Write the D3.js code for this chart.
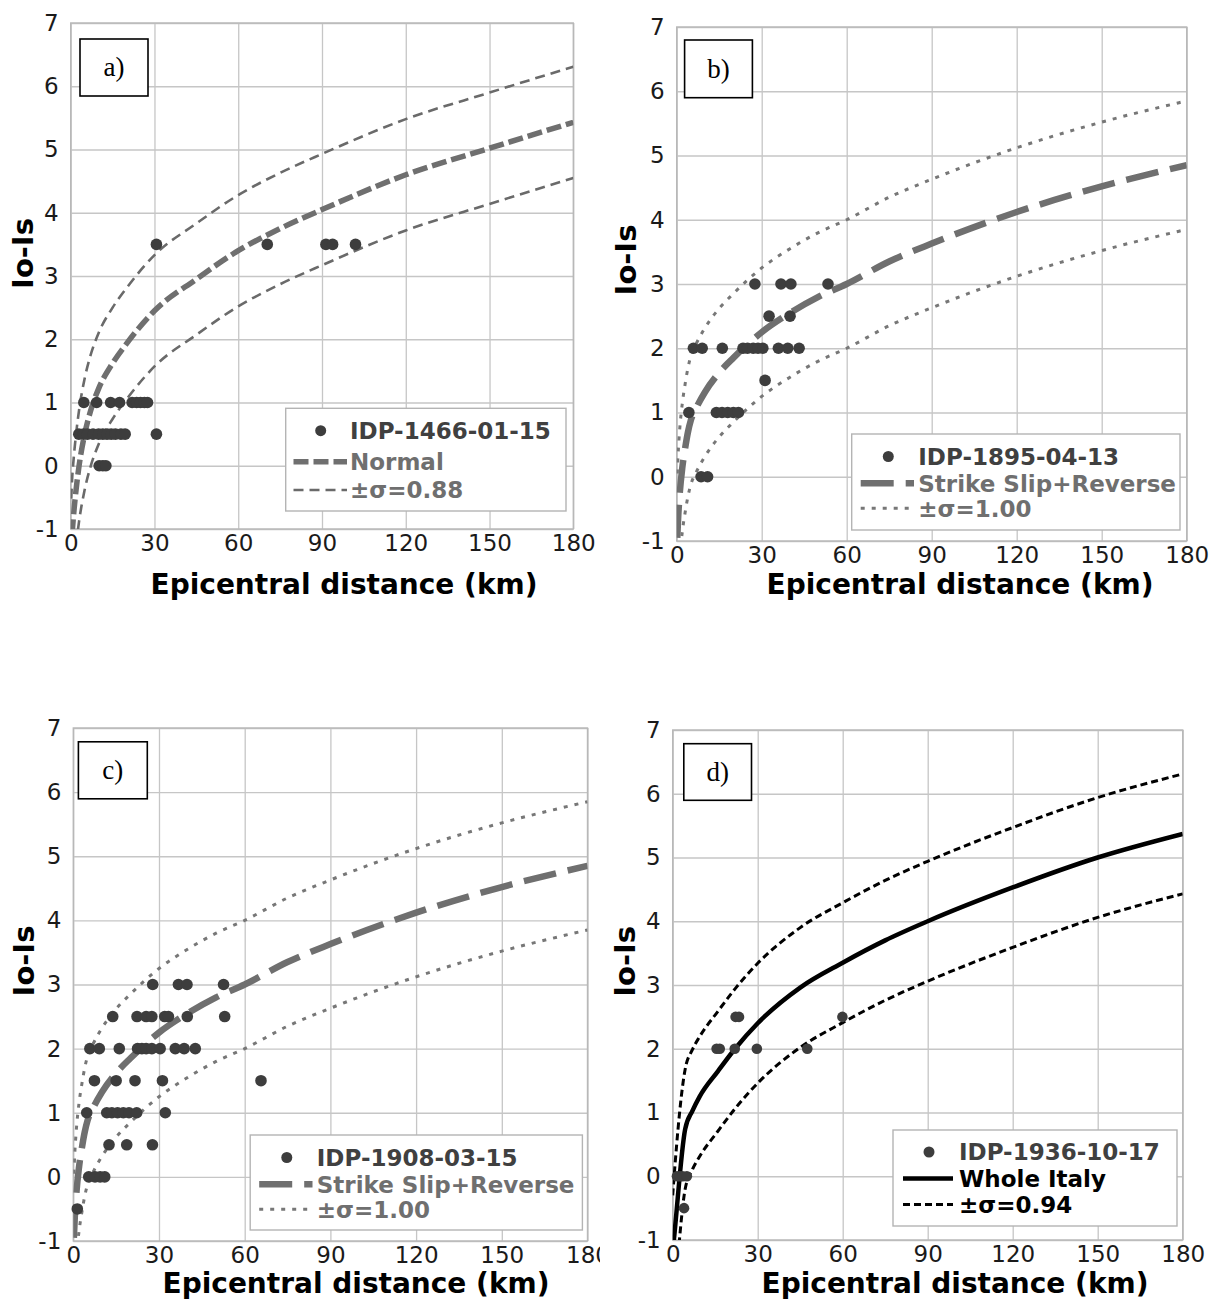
<!DOCTYPE html>
<html><head><meta charset="utf-8">
<script src="https://cdn.jsdelivr.net/npm/d3@7"></script>
<style>
html,body{margin:0;padding:0;background:#fff;}
svg{display:block;}
</style></head>
<body>
<script>
// ---------- shared axis ticks ----------
const xTicks = [0, 30, 60, 90, 120, 150, 180];
const yTicks = [-1, 0, 1, 2, 3, 4, 5, 6, 7];
const xTitle = "Epicentral distance (km)";
const yTitle = "Io-Is";

// ---------- panel a: IDP-1466-01-15 / Normal ----------
const distA = [30.7, 70.4, 91.4, 93.8, 102,
  4.7, 9.3, 14.3, 17.5, 22, 23.6, 25, 26.4, 27.5,
  2.9, 4.6, 6, 8, 10, 11.5, 13, 14.5, 16, 18, 19.5, 30.7,
  10.2, 11.5, 12.6];
const ioIsA = [3.5, 3.5, 3.5, 3.5, 3.5,
  1, 1, 1, 1, 1, 1, 1, 1, 1,
  0.5, 0.5, 0.5, 0.5, 0.5, 0.5, 0.5, 0.5, 0.5, 0.5, 0.5, 0.5,
  0, 0, 0];
const modelDistA = [0.2, 0.5, 1, 2, 3, 5, 7, 10, 15, 20, 30, 45, 60, 75, 90, 120, 150, 180];
const normalA    = [-1.4, -1.1, -0.8, -0.35, 0.0, 0.5, 0.85, 1.22, 1.62, 1.93, 2.45, 2.95, 3.4, 3.75, 4.05, 4.6, 5.02, 5.43];
const normalUpA  = [-0.52, -0.22, 0.08, 0.53, 0.88, 1.38, 1.73, 2.1, 2.5, 2.81, 3.33, 3.83, 4.28, 4.63, 4.93, 5.48, 5.9, 6.31];
const normalLoA  = [-2.28, -1.98, -1.68, -1.23, -0.88, -0.38, -0.03, 0.34, 0.74, 1.05, 1.57, 2.07, 2.52, 2.87, 3.17, 3.72, 4.14, 4.55];
const legendA = ["IDP-1466-01-15", "Normal", "\u00b1\u03c3=0.88"];

// ---------- panel b: IDP-1895-04-13 / Strike Slip+Reverse ----------
const distB = [27.6, 36.8, 40.3, 53.4,
  32.6, 40,
  5.9, 9, 16.1, 23.4, 25, 27, 28.7, 30.4, 35.9, 39.2, 43.2,
  31.2,
  4.3, 14, 16, 18, 20, 21.8,
  8.6, 10.9];
const ioIsB = [3, 3, 3, 3,
  2.5, 2.5,
  2, 2, 2, 2, 2, 2, 2, 2, 2, 2, 2,
  1.5,
  1, 1, 1, 1, 1, 1,
  0, 0];
const modelDistSS = [0.2, 0.5, 1, 2, 3, 4, 5, 7, 10, 15, 20, 30, 40, 50, 60, 75, 90, 120, 150, 180];
const strikeSS    = [-0.95, -0.65, -0.3, 0.15, 0.45, 0.7, 0.88, 1.08, 1.32, 1.62, 1.85, 2.25, 2.55, 2.8, 3.0, 3.35, 3.63, 4.12, 4.52, 4.85];
const strikeUpSS  = [0.05, 0.35, 0.7, 1.15, 1.45, 1.7, 1.88, 2.08, 2.32, 2.62, 2.85, 3.25, 3.55, 3.8, 4.0, 4.35, 4.63, 5.12, 5.52, 5.85];
const strikeLoSS  = [-1.95, -1.65, -1.3, -0.85, -0.55, -0.3, -0.12, 0.08, 0.32, 0.62, 0.85, 1.25, 1.55, 1.8, 2.0, 2.35, 2.63, 3.12, 3.52, 3.85];
const legendB = ["IDP-1895-04-13", "Strike Slip+Reverse", "\u00b1\u03c3=1.00"];

// ---------- panel c: IDP-1908-03-15 / Strike Slip+Reverse ----------
const distC = [27.8, 36.8, 39.8, 52.6,
  13.8, 22.3, 25.5, 27.5, 32, 33.3, 39.9, 53,
  5.8, 9.1, 16.1, 22.5, 24, 25.5, 27.5, 30.4, 35.7, 38.8, 42.7,
  7.4, 15, 21.6, 31.2, 65.7,
  4.7, 11.7, 13.5, 15.5, 17.5, 19.5, 22.2, 32.2,
  12.5, 18.7, 27.7,
  5.4, 7.6, 9.4, 11,
  1.4];
const ioIsC = [3, 3, 3, 3,
  2.5, 2.5, 2.5, 2.5, 2.5, 2.5, 2.5, 2.5,
  2, 2, 2, 2, 2, 2, 2, 2, 2, 2, 2,
  1.5, 1.5, 1.5, 1.5, 1.5,
  1, 1, 1, 1, 1, 1, 1, 1,
  0.5, 0.5, 0.5,
  0, 0, 0, 0,
  -0.5];
const legendC = ["IDP-1908-03-15", "Strike Slip+Reverse", "\u00b1\u03c3=1.00"];

// ---------- panel d: IDP-1936-10-17 / Whole Italy ----------
const distD = [1.5, 2.5, 3.5, 5, 4, 15.5, 16.6, 21.9, 29.7, 47.5, 22.2, 23.4, 59.9];
const ioIsD = [0, 0, 0, 0, -0.5, 2, 2, 2, 2, 2, 2.5, 2.5, 2.5];
const modelDistD = [0, 0.4, 4.4, 7, 9.5, 16, 22, 30, 45, 60, 75, 90, 120, 150, 180];
const italyD     = [-1.17, -1.0, 0.74, 1.03, 1.25, 1.65, 2.0, 2.4, 2.96, 3.35, 3.7, 4.0, 4.53, 5.0, 5.37];
const italyUpD   = [-0.3, -0.06, 1.68, 1.99, 2.19, 2.59, 2.94, 3.34, 3.9, 4.29, 4.64, 4.94, 5.47, 5.94, 6.31];
const italyLoD   = [-2.1, -1.94, -0.2, 0.11, 0.31, 0.71, 1.06, 1.46, 2.02, 2.41, 2.76, 3.06, 3.59, 4.06, 4.43];
const legendD = ["IDP-1936-10-17", "Whole Italy", "\u00b1\u03c3=0.94"];

// ---------- styles ----------
const DOT = "#3d3d3d";
const GREY = "#6f6f6f";
const styleNormal  = {stroke: GREY, width: 5.5, dash: "15,5"};
const styleNormSig = {stroke: "#6a6a6a", width: 2.6, dash: "10,6"};
const styleSS      = {stroke: GREY, width: 6.5, dash: "33,12"};
const styleSSSig   = {stroke: "#777", width: 3, dash: "4,7"};
const styleItaly   = {stroke: "#000", width: 4.5, dash: null};
const styleItSig   = {stroke: "#000", width: 3, dash: "7,4"};

const panels = [
  {id: "a", label: "a)", x0: 70.7, x1: 573.3, y0: 23, y1: 529,
   pts: [distA, ioIsA], r: 5.8,
   curves: [[modelDistA, normalUpA, styleNormSig], [modelDistA, normalLoA, styleNormSig], [modelDistA, normalA, styleNormal]],
   labelBox: [80, 39, 148, 96],
   legend: {names: legendA, box: [285.7, 408.3, 566, 511], dotX: 320.7, textX: 350, rows: [430.7, 461.7, 490], sx: [293.5, 347],
            styles: [styleNormal, styleNormSig], colors: ["#404040", GREY, GREY]},
   yTitle: [23, 253.5], xTitle: [344, 594]},
  {id: "b", label: "b)", x0: 676.7, x1: 1186.7, y0: 27, y1: 541,
   pts: [distB, ioIsB], r: 5.8,
   curves: [[modelDistSS, strikeUpSS, styleSSSig], [modelDistSS, strikeLoSS, styleSSSig], [modelDistSS, strikeSS, styleSS]],
   labelBox: [684.6, 40, 752.4, 97.7],
   legend: {names: legendB, box: [851.7, 434, 1180, 530], dotX: 888.3, textX: 918.3, rows: [456.5, 483.3, 508.3], sx: [860.7, 914],
            styles: [styleSS, styleSSSig], colors: ["#404040", GREY, GREY]},
   yTitle: [626, 260], xTitle: [960, 594]},
  {id: "c", label: "c)", x0: 73.3, x1: 587.5, y0: 728, y1: 1241,
   pts: [distC, ioIsC], r: 5.8, clipRight: 600,
   curves: [[modelDistSS, strikeUpSS, styleSSSig], [modelDistSS, strikeLoSS, styleSSSig], [modelDistSS, strikeSS, styleSS]],
   labelBox: [78.4, 741.8, 147.3, 798.8],
   legend: {names: legendC, box: [250.2, 1135, 582.4, 1230], dotX: 286.8, textX: 316.8, rows: [1157.5, 1184.3, 1209.3], sx: [259.2, 312.5],
            styles: [styleSS, styleSSSig], colors: ["#404040", GREY, GREY]},
   yTitle: [23.5, 961], xTitle: [356, 1293]},
  {id: "d", label: "d)", x0: 672.7, x1: 1182.7, y0: 730, y1: 1240,
   pts: [distD, ioIsD], r: 5.3,
   curves: [[modelDistD, italyUpD, styleItSig], [modelDistD, italyLoD, styleItSig], [modelDistD, italyD, styleItaly]],
   labelBox: [683.8, 743.7, 751.5, 800.3],
   legend: {names: legendD, box: [893, 1130, 1177, 1226], dotX: 929, textX: 959, rows: [1152, 1178.6, 1204.6], sx: [903, 953],
            styles: [styleItaly, styleItSig], colors: ["#404040", "#000", "#000"]},
   yTitle: [625, 961.4], xTitle: [955, 1293]}
];

const W = 1226, H = 1304;
const svg = d3.select("body").append("svg").attr("width", W).attr("height", H)
  .style("font-family", "'DejaVu Sans', Verdana, sans-serif");
svg.append("rect").attr("width", W).attr("height", H).attr("fill", "#fff");
const defs = svg.append("defs");

function applyStyle(sel, st) {
  sel.attr("fill", "none").attr("stroke", st.stroke).attr("stroke-width", st.width)
     .attr("stroke-dasharray", st.dash).attr("stroke-linecap", "butt").attr("stroke-linejoin", "round");
}

panels.forEach(p => {
  const x = d3.scaleLinear().domain([0, 180]).range([p.x0, p.x1]);
  const y = d3.scaleLinear().domain([-1, 7]).range([p.y1, p.y0]);
  let g = svg.append("g");
  if (p.clipRight) {
    defs.append("clipPath").attr("id", "clipR-" + p.id)
      .append("rect").attr("x", 0).attr("y", 600).attr("width", p.clipRight).attr("height", H - 600);
    g.attr("clip-path", "url(#clipR-" + p.id + ")");
  }
  defs.append("clipPath").attr("id", "plot-" + p.id)
    .append("rect").attr("x", p.x0).attr("y", p.y0).attr("width", p.x1 - p.x0).attr("height", p.y1 - p.y0);

  // grid + tick labels (plain hyphen for negatives, as in the reference)
  const fmt = d => String(d);
  const gx = g.append("g").attr("transform", `translate(0,${p.y1})`)
    .call(d3.axisBottom(x).tickValues(xTicks).tickFormat(fmt).tickSizeInner(-(p.y1 - p.y0)).tickSizeOuter(0).tickPadding(6));
  const gy = g.append("g").attr("transform", `translate(${p.x0},0)`)
    .call(d3.axisLeft(y).tickValues(yTicks).tickFormat(fmt).tickSizeInner(-(p.x1 - p.x0)).tickSizeOuter(0).tickPadding(12));
  [gx, gy].forEach(a => {
    a.select(".domain").remove();
    a.selectAll(".tick line").attr("stroke", "#c6c6c6").attr("stroke-width", 1.3);
    a.selectAll(".tick text").attr("fill", "#1a1a1a").style("font-size", "23px")
      .style("font-family", "'DejaVu Sans', Verdana, sans-serif");
  });
  g.append("rect").attr("x", p.x0).attr("y", p.y0).attr("width", p.x1 - p.x0).attr("height", p.y1 - p.y0)
    .attr("fill", "none").attr("stroke", "#b8b8b8").attr("stroke-width", 1.4);

  // model curves
  const cg = g.append("g").attr("clip-path", "url(#plot-" + p.id + ")");
  p.curves.forEach(([xs, ys, st]) => {
    const data = xs.map((d, i) => [d, ys[i]]);
    const line = d3.line().x(d => x(d[0])).y(d => y(d[1])).curve(d3.curveMonotoneX);
    applyStyle(cg.append("path").attr("d", line(data)), st);
  });

  // observed points
  const [dx, dy] = p.pts;
  g.append("g").selectAll("circle").data(dx.map((d, i) => [d, dy[i]])).join("circle")
    .attr("cx", d => x(d[0])).attr("cy", d => y(d[1])).attr("r", p.r).attr("fill", DOT);

  // legend
  const L = p.legend;
  const lg = g.append("g");
  lg.append("rect").attr("x", L.box[0]).attr("y", L.box[1]).attr("width", L.box[2] - L.box[0]).attr("height", L.box[3] - L.box[1])
    .attr("fill", "#fff").attr("stroke", "#b4b4b4").attr("stroke-width", 1.4);
  lg.append("circle").attr("cx", L.dotX).attr("cy", L.rows[0]).attr("r", 5.5).attr("fill", DOT);
  [1, 2].forEach(k => {
    applyStyle(lg.append("line").attr("x1", L.sx[0]).attr("x2", L.sx[1]).attr("y1", L.rows[k]).attr("y2", L.rows[k]), L.styles[k - 1]);
  });
  L.names.forEach((t, k) => {
    lg.append("text").attr("x", L.textX).attr("y", L.rows[k]).attr("dy", "0.36em")
      .attr("fill", L.colors[k]).style("font-size", "23px").style("font-weight", "bold").text(t);
  });

  // panel label box
  const b = p.labelBox;
  g.append("rect").attr("x", b[0]).attr("y", b[1]).attr("width", b[2] - b[0]).attr("height", b[3] - b[1])
    .attr("fill", "#fff").attr("stroke", "#000").attr("stroke-width", 1.6);
  g.append("text").attr("x", (b[0] + b[2]) / 2).attr("y", (b[1] + b[3]) / 2).attr("dy", "0.33em")
    .attr("text-anchor", "middle").style("font-family", "'Liberation Serif', 'Times New Roman', serif")
    .style("font-size", "27px").attr("fill", "#000").text(p.label);

  // axis titles
  g.append("text").attr("x", p.xTitle[0]).attr("y", p.xTitle[1]).attr("text-anchor", "middle")
    .style("font-size", "28px").style("font-weight", "bold").attr("fill", "#000").text(xTitle);
  g.append("text").attr("transform", `translate(${p.yTitle[0]},${p.yTitle[1]}) rotate(-90)`).attr("dy", "0.36em")
    .attr("text-anchor", "middle").style("font-size", "29px").style("font-weight", "bold").attr("fill", "#000").text(yTitle);
});
</script>
</body></html>
